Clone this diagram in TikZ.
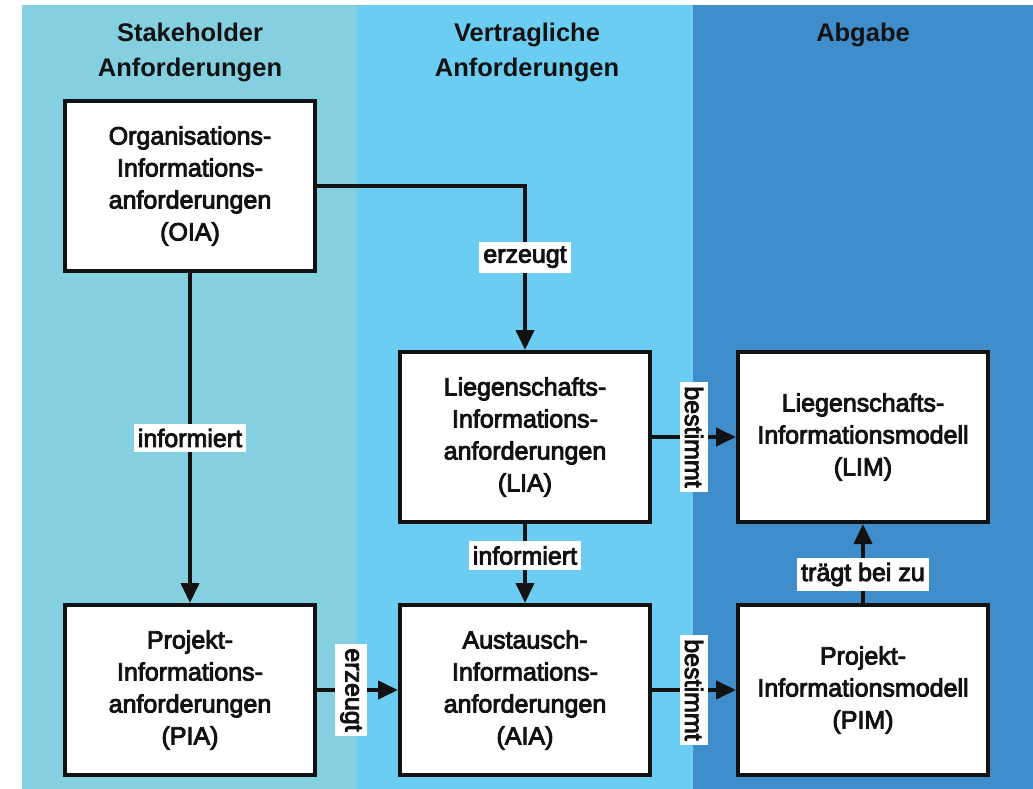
\documentclass[tikz,border=0pt]{standalone}
\usepackage{fontspec}
\setmainfont{Liberation Sans}
\newfontfamily\medfont{Liberation Sans}[FakeBold=3.5]
\usetikzlibrary{arrows.meta}
\definecolor{colA}{HTML}{84D0E0}
\definecolor{colB}{HTML}{6CCDF2}
\definecolor{colC}{HTML}{3F8DCB}
\definecolor{ink}{HTML}{121212}
\begin{document}
\begin{tikzpicture}[x=1pt,y=-1pt,
  box/.style={draw=ink, line width=4pt, fill=white, minimum width=250pt,
    minimum height=170pt, align=center, text=ink, inner sep=0pt,
    font=\medfont\fontsize{25}{32}\selectfont},
  lbl/.style={fill=white, text=ink, inner xsep=4pt, inner ysep=5pt,
    font=\medfont\fontsize{25}{28}\selectfont},
  arr/.style={line width=4pt, draw=ink, -{Triangle[length=20pt,width=18pt]}},
  head/.style={align=center, text=ink, font=\bfseries\fontsize{25.5}{35}\selectfont}]
\useasboundingbox (0,0) rectangle (1033,789);
\fill[white] (0,0) rectangle (1033,789);
% three column bands
\fill[colA] (22,5) rectangle (357,789);
\fill[colB] (357,5) rectangle (693,789);
\fill[colC] (693,5) rectangle (1033,789);

% column headings
\node[head] (h1) at (190,52) {Stakeholder\\Anforderungen};
\node[head] (h2) at (527,52) {Vertragliche\\Anforderungen};
\node[head] (h3) at (863,35) {Abgabe};

% boxes
\node[box] (oia) at (190,186) {Organisations-\\Informations-\\anforderungen\\(OIA)};
\node[box] (pia) at (190,690) {Projekt-\\Informations-\\anforderungen\\(PIA)};
\node[box] (lia) at (525,437) {Liegenschafts-\\Informations-\\anforderungen\\(LIA)};
\node[box] (aia) at (525,690) {Austausch-\\Informations-\\anforderungen\\(AIA)};
\node[box] (lim) at (863,437) {Liegenschafts-\\Informationsmodell\\(LIM)};
\node[box] (pim) at (863,690) {Projekt-\\Informationsmodell\\(PIM)};

% connectors
\draw[arr] (oia.east) -| (lia.north) node[lbl,pos=0.717] {erzeugt};
\draw[arr] (oia) -- (pia) node[lbl,pos=0.5] {informiert};
\draw[arr] (lia) -- (aia) node[lbl,pos=0.4] {informiert};
\draw[arr] (pia) -- (aia) node[lbl,pos=0.42,rotate=-90] {erzeugt};
\draw[arr] (aia) -- (pim) node[lbl,pos=0.5,rotate=-90] {bestimmt};
\draw[arr] (lia) -- (lim) node[lbl,pos=0.5,rotate=-90] {bestimmt};
\draw[arr] (pim) -- (lim) node[lbl,pos=0.36] {trägt bei zu};
\end{tikzpicture}
\end{document}
